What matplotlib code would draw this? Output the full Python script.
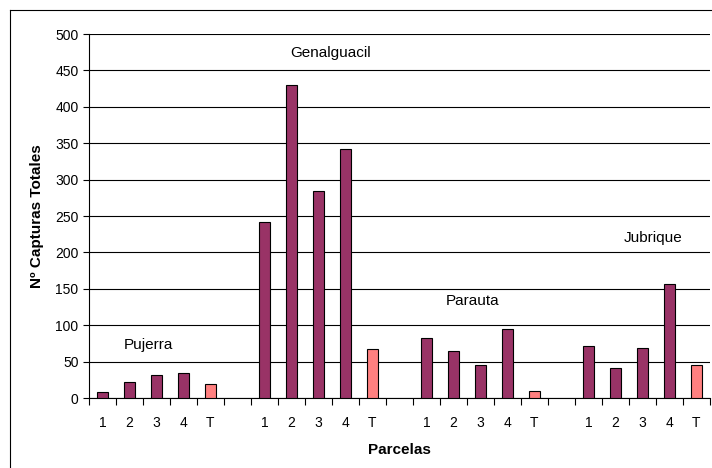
import matplotlib
matplotlib.use("Agg")
import matplotlib.pyplot as plt
from matplotlib.lines import Line2D

plt.rcParams['font.family'] = ['Liberation Sans', 'DejaVu Sans']

tick_labels = ['1', '2', '3', '4', 'T', '',
               '1', '2', '3', '4', 'T', '',
               '1', '2', '3', '4', 'T', '',
               '1', '2', '3', '4', 'T']
pujerra = [8, 22, 32, 35, 19]
genalguacil = [242, 430, 284, 342, 67]
parauta = [83, 64, 45, 95, 9]
jubrique = [72, 41, 69, 157, 46]
site_names = ['Pujerra', 'Genalguacil', 'Parauta', 'Jubrique']
label_values = [73, 474, 133, 220]

groups = [pujerra, genalguacil, parauta, jubrique]
values = []
for gi, g in enumerate(groups):
    values.extend(g)
    if gi < len(groups) - 1:
        values.append(None)

fig = plt.figure(figsize=(7.12, 4.68), dpi=100)
ax = fig.add_axes([89/712, 1 - 398/468, 621/712, 364/468])

maroon = '#993366'
salmon = '#FF8080'
for i, (v, lab) in enumerate(zip(values, tick_labels)):
    if v is None:
        continue
    color = salmon if lab == 'T' else maroon
    ax.bar(i, v, width=0.42, color=color, edgecolor='black', linewidth=0.8, zorder=3)

ax.set_xlim(-0.5, len(tick_labels) - 0.5)
ax.set_ylim(0, 500)
ax.set_yticks(range(0, 501, 50))
ax.yaxis.grid(True, color='black', linewidth=0.8, zorder=0)
ax.set_axisbelow(True)

ax.set_xticks(range(len(tick_labels)))
ax.set_xticklabels(tick_labels)
ax.tick_params(axis='x', length=0, pad=13, labelsize=10)
ax.set_xticks([i - 0.5 for i in range(len(tick_labels) + 1)], minor=True)
ax.tick_params(axis='x', which='minor', length=5, direction='out', width=0.8)
ax.tick_params(axis='y', length=4, direction='out', width=0.8, labelsize=10)

for s in ['top', 'right']:
    ax.spines[s].set_visible(False)
for s in ['left', 'bottom']:
    ax.spines[s].set_linewidth(0.8)

ax.set_xlabel('Parcelas', fontweight='bold', fontsize=11, labelpad=9)
ax.set_ylabel('Nº Capturas Totales', fontweight='bold', fontsize=11, labelpad=8)

label_x = [1.69, 8.43, 13.7, 20.4]
for name, c, yv in zip(site_names, label_x, label_values):
    ax.text(c, yv, name, ha='center', va='center', fontsize=11)

fig.add_artist(Line2D([10/712, 10/712], [1 - 10/468, 0], color='black', linewidth=0.8, transform=fig.transFigure))
fig.add_artist(Line2D([10/712, 1], [1 - 10/468, 1 - 10/468], color='black', linewidth=0.8, transform=fig.transFigure))

fig.savefig('out.png', dpi=100)
